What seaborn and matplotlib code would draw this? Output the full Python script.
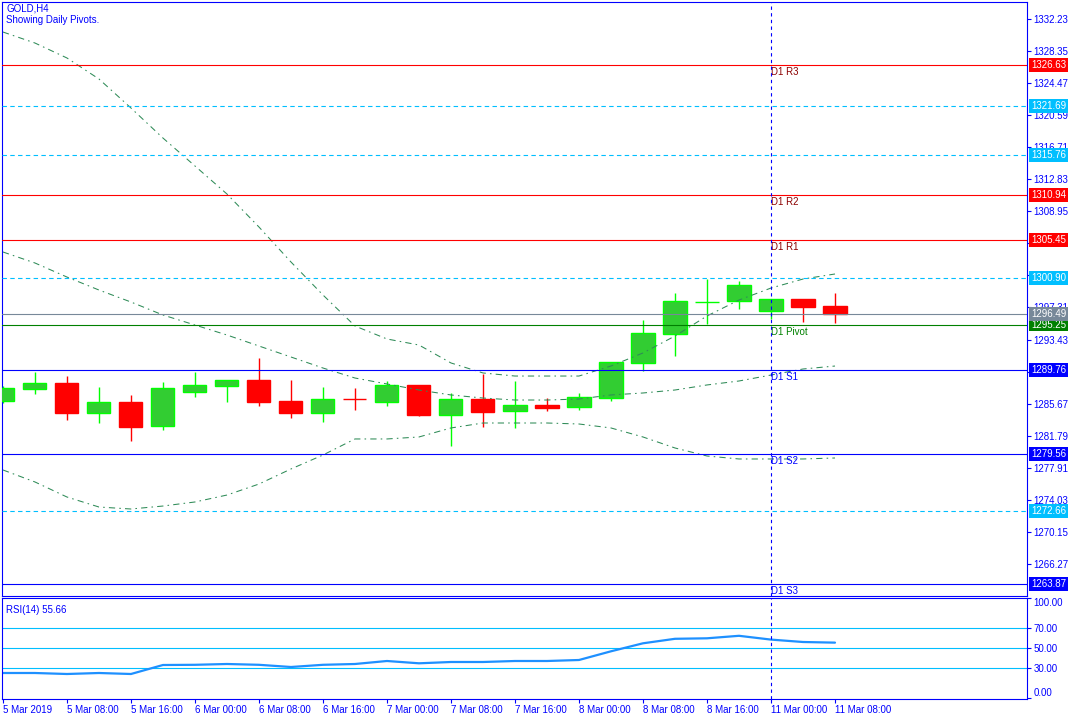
import numpy as np
import matplotlib
matplotlib.use("Agg")
import matplotlib.pyplot as plt
import matplotlib.transforms as mtransforms
import seaborn as sns

sns.set_style("white")
plt.rcParams["font.family"] = ["Liberation Sans", "DejaVu Sans"]

BLUE = "#0000FF"
CYAN = "#00BFFF"
BULL, BULL_EDGE, BEAR = "#32CD32", "#00FF00", "#FF0000"
BAND = "#2E8B57"

# 4H candles, 5 Mar 2019 00:00 -> 11 Mar 08:00
opens  = [1286.04, 1287.45, 1288.18, 1284.59, 1285.88, 1283.01, 1287.13, 1287.85, 1288.54,
          1286.00, 1284.59, 1286.22, 1285.92, 1287.94, 1284.34, 1286.24, 1284.83, 1285.52,
          1285.31, 1286.40, 1290.63, 1294.14, 1297.94, 1298.09, 1296.88, 1298.33, 1297.49]
highs  = [1287.80, 1289.51, 1289.02, 1287.69, 1286.73, 1288.30, 1289.51, 1288.54, 1291.20,
          1288.54, 1287.69, 1287.57, 1288.42, 1287.94, 1286.97, 1289.27, 1288.42, 1286.36,
          1286.97, 1290.72, 1295.80, 1299.06, 1300.75, 1300.51, 1298.33, 1298.33, 1299.06]
lows   = [1285.80, 1286.88, 1283.70, 1283.38, 1281.20, 1282.53, 1286.52, 1285.92, 1285.43,
          1283.98, 1283.50, 1284.95, 1285.43, 1284.22, 1280.60, 1282.89, 1282.77, 1284.83,
          1284.95, 1286.04, 1289.59, 1291.48, 1295.35, 1297.16, 1295.92, 1295.59, 1295.47]
closes = [1287.57, 1288.18, 1284.59, 1285.88, 1282.89, 1287.57, 1287.94, 1288.54, 1285.92,
          1284.59, 1286.24, 1286.20, 1287.94, 1284.34, 1286.24, 1284.71, 1285.52, 1285.19,
          1286.48, 1290.72, 1294.22, 1298.09, 1298.00, 1300.03, 1298.33, 1297.40, 1296.48]

bb_upper = [1330.62, 1329.29, 1327.48, 1324.94, 1321.43, 1317.80, 1314.42, 1311.03, 1307.04,
            1302.81, 1298.82, 1295.07, 1293.50, 1292.77, 1290.60, 1289.39, 1289.02, 1289.02,
            1289.02, 1290.23, 1291.81, 1293.86, 1296.28, 1298.21, 1299.66, 1300.75, 1301.36]
bb_mid   = [1304.02, 1302.69, 1300.99, 1299.42, 1297.97, 1296.40, 1295.19, 1293.98, 1292.65,
            1291.32, 1289.99, 1288.78, 1288.06, 1287.33, 1286.73, 1286.36, 1286.12, 1286.12,
            1286.24, 1286.73, 1286.97, 1287.33, 1287.94, 1288.42, 1289.14, 1289.87, 1290.23]
bb_lower = [1277.66, 1276.21, 1274.39, 1273.18, 1272.94, 1273.30, 1273.79, 1274.63, 1275.96,
            1277.78, 1279.47, 1281.41, 1281.41, 1281.65, 1282.74, 1283.34, 1283.34, 1283.34,
            1283.22, 1282.74, 1281.65, 1280.32, 1279.35, 1278.99, 1278.99, 1278.99, 1279.11]

rsi = [25.3, 25.3, 24.3, 25.3, 24.3, 33.3, 33.5, 34.3, 33.5, 31.3, 33.5, 34.3, 37.3, 35.0,
       36.3, 36.3, 37.3, 37.3, 38.3, 47.0, 55.0, 59.5, 60.0, 62.5, 58.7, 56.3, 55.66]
rsi_levels = [70, 50, 30]

pivot_names  = ["D1 R3", "D1 R2", "D1 R1", "D1 Pivot", "D1 S1", "D1 S2", "D1 S3"]
pivot_values = [1326.63, 1310.94, 1305.45, 1295.25, 1289.76, 1279.56, 1263.87]
mid_values   = [1321.69, 1315.76, 1300.90, 1272.66]
bid = 1296.49

price_ticks = [1332.23, 1328.35, 1324.47, 1320.59, 1316.71, 1312.83, 1308.95, 1305.07, 1301.19,
               1297.31, 1293.43, 1289.55, 1285.67, 1281.79, 1277.91, 1274.03, 1270.15, 1266.27]
hidden_ticks = [1305.07, 1301.19, 1289.55]  # covered by the level boxes
time_labels = ["5 Mar 2019", "5 Mar 08:00", "5 Mar 16:00", "6 Mar 00:00", "6 Mar 08:00",
               "6 Mar 16:00", "7 Mar 00:00", "7 Mar 08:00", "7 Mar 16:00", "8 Mar 00:00",
               "8 Mar 08:00", "8 Mar 16:00", "11 Mar 00:00", "11 Mar 08:00"]
day_break = 24  # bar index of 11 Mar 00:00

bars = np.arange(len(opens))
o, h, l, c = map(np.array, (opens, highs, lows, closes))
up = c >= o

fig = plt.figure(figsize=(10.8, 7.2), dpi=100)
ax = fig.add_axes([2/1080, 1 - 596/720, 1025/1080, 594/720])
ax2 = fig.add_axes([2/1080, 1 - 699/720, 1025/1080, 101/720])

# candles
ax.vlines(bars[up], l[up], h[up], color=BULL_EDGE, lw=1.0, zorder=2)
ax.vlines(bars[~up], l[~up], h[~up], color=BEAR, lw=1.0, zorder=2)
ax.bar(bars[up], (c - o)[up], bottom=o[up], width=0.72, color=BULL,
       edgecolor=BULL_EDGE, lw=1.0, zorder=3)
ax.bar(bars[~up], (o - c)[~up], bottom=c[~up], width=0.72, color=BEAR,
       edgecolor=BEAR, lw=1.0, zorder=3)

# bollinger bands
for band in (bb_upper, bb_mid, bb_lower):
    sns.lineplot(x=bars, y=band, ax=ax, color=BAND, lw=0.75,
                 linestyle=(0, (6, 4, 1.5, 4)), zorder=4)

# pivot levels
trans = mtransforms.blended_transform_factory(ax.transAxes, ax.transData)
box_x = 1 + 4/1025
for name, val in zip(pivot_names, pivot_values):
    if name.startswith("D1 R"):
        lc, tc = "#FF0000", "#8B0000"
    elif name == "D1 Pivot":
        lc, tc = "#008000", "#008000"
    else:
        lc, tc = BLUE, BLUE
    ax.axhline(val, color=lc, lw=0.8, zorder=5)
    ax.annotate(name, (day_break, val), xytext=(0, -1.5), textcoords="offset points",
                ha="left", va="top", fontsize=7, color=tc, zorder=6)
    ax.text(box_x, val, f"{val:.2f}", transform=trans, ha="left", va="center",
            fontsize=7, color="white", clip_on=False, zorder=10,
            bbox=dict(boxstyle="square,pad=0.2", fc=lc, ec="none"))
for val in mid_values:
    ax.axhline(val, color=CYAN, lw=0.8, ls=(0, (4, 3)), zorder=5)
    ax.text(box_x, val, f"{val:.2f}", transform=trans, ha="left", va="center",
            fontsize=7, color="white", clip_on=False, zorder=10,
            bbox=dict(boxstyle="square,pad=0.2", fc=CYAN, ec="none"))
ax.axhline(bid, color="#778899", lw=0.8, zorder=5)
ax.text(box_x, bid, f"{bid:.2f}", transform=trans, ha="left", va="center",
        fontsize=7, color="white", clip_on=False, zorder=11,
        bbox=dict(boxstyle="square,pad=0.2", fc="#778899", ec="none"))

ax.set_xlim(-0.03, 32.0)
ax.set_ylim(1262.42, 1334.25)
ax.set_yticks(price_ticks)
ax.set_yticklabels(["" if v in hidden_ticks else f"{v:.2f}" for v in price_ticks])
ax.set_xticks([])
ax.text(0.004, 0.998, "GOLD,H4\nShowing Daily Pivots.", transform=ax.transAxes,
        ha="left", va="top", fontsize=7, color=BLUE, linespacing=1.2)

# RSI panel
for lv in rsi_levels:
    ax2.axhline(lv, color=CYAN, lw=0.8)
sns.lineplot(x=bars, y=rsi, ax=ax2, color="#1E90FF", lw=1.6)
ax2.set_xlim(ax.get_xlim())
ax2.set_ylim(-0.7, 100.3)
ax2.set_yticks([100, 70, 50, 30, 0])
ax2.set_yticklabels(["100.00", "70.00", "50.00", "30.00", "0.00"])
ax2.set_xticks(np.arange(0, len(bars), 2))
ax2.set_xticklabels(time_labels)
for lab in ax2.get_xticklabels():
    lab.set_ha("left")
ax2.text(0.004, 0.93, f"RSI(14) {rsi[-1]:.2f}", transform=ax2.transAxes,
         ha="left", va="top", fontsize=7, color=BLUE)

for a in (ax, ax2):
    a.axvline(day_break, color=BLUE, lw=0.8, ls=(0, (3, 3)), zorder=6)
    a.set_xlabel(""); a.set_ylabel("")
    a.grid(False)
    for s in a.spines.values():
        s.set_color(BLUE); s.set_linewidth(0.8)
    a.yaxis.tick_right()
    a.tick_params(axis="y", direction="out", length=3, width=0.8, color=BLUE,
                  labelcolor=BLUE, labelsize=7, pad=1.5, right=True, left=False)
ax2.tick_params(axis="x", direction="out", length=3, width=0.8, color=BLUE,
                labelcolor=BLUE, labelsize=7, pad=1, bottom=True)

# keep the end labels of the RSI scale inside the panel
rsi_ticks = ax2.yaxis.get_major_ticks()
rsi_ticks[0].label2.set_va("top")
rsi_ticks[-1].label2.set_va("bottom")

fig.savefig("out.png", dpi=100)
